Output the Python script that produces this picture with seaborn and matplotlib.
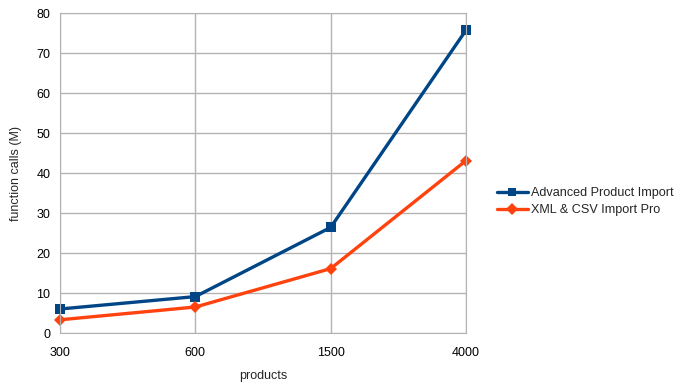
import pandas as pd
import matplotlib
matplotlib.use("Agg")
import matplotlib.pyplot as plt
import seaborn as sns

# data
products = ["300", "600", "1500", "4000"]
advanced_import = [6.0, 9.1, 26.4, 75.7]
xml_csv_import = [3.3, 6.5, 16.1, 43.1]
series_names = ["Advanced Product Import", "XML & CSV Import Pro"]

df = pd.DataFrame({
    "pos": list(range(len(products))) * 2,
    "calls": advanced_import + xml_csv_import,
    "series": [series_names[0]] * len(products) + [series_names[1]] * len(products),
})

sns.set_style("white")
plt.rcParams["font.family"] = ["Liberation Sans", "DejaVu Sans"]
plt.rcParams["font.size"] = 9

fig = plt.figure(figsize=(6.76, 3.86), dpi=100)
ax = fig.add_axes([60 / 676, 53 / 386, 406 / 676, 320 / 386])

grid_c = "#b3b3b3"
sns.lineplot(data=df, x="pos", y="calls", hue="series", style="series",
             palette=["#004586", "#ff420e"], markers=["s", "D"], dashes=False,
             linewidth=2.4, markersize=7.5, markeredgewidth=0, ax=ax, clip_on=False)
# diamond a bit smaller
for line in ax.get_lines()[1:2]:
    line.set_markersize(6)

ax.set_xlim(0, len(products) - 1)
ax.set_ylim(0, 80)
ax.set_xticks(range(len(products)))
ax.set_xticklabels(products)
ax.set_yticks(range(0, 81, 10))
ax.grid(True, color=grid_c, linewidth=1)
ax.set_axisbelow(True)
for s in ax.spines.values():
    s.set_color(grid_c)
ax.tick_params(axis="both", direction="out", length=4, color=grid_c,
               labelsize=9, labelcolor="black", pad=3)
ax.tick_params(axis="x", pad=6)

ax.set_xlabel("products", fontsize=9, labelpad=8)
ax.set_ylabel("function calls (M)", fontsize=9, labelpad=10)

leg = ax.legend(loc="center left", bbox_to_anchor=(1.077, 0.41), frameon=False,
                fontsize=9.1, handlelength=2.4, handletextpad=0.3, labelspacing=0.4,
                borderaxespad=0, borderpad=0)
for h in leg.legend_handles:
    h.set_linewidth(2.4)
    h.set_markersize(6)

fig.savefig("out.png", dpi=100)
